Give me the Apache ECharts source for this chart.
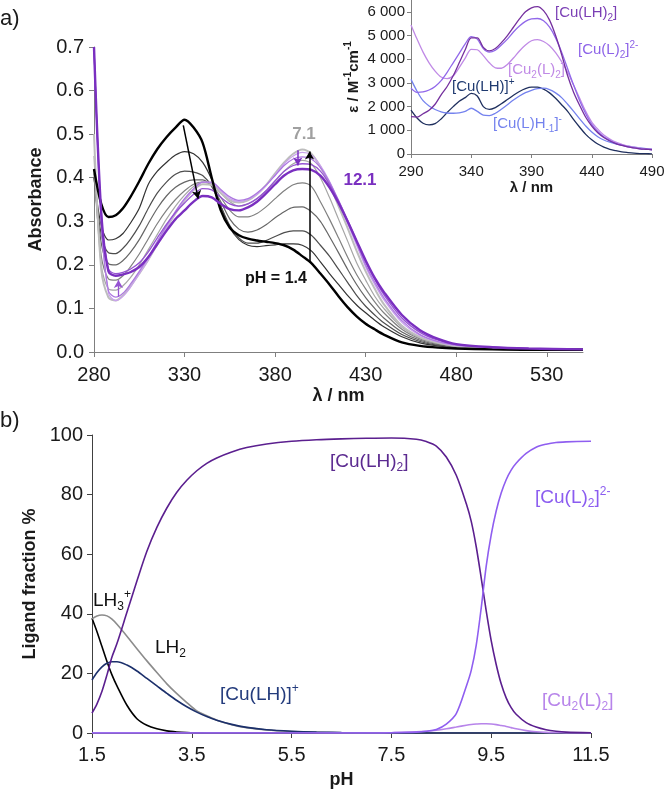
<!DOCTYPE html>
<html>
<head>
<meta charset="utf-8">
<script src="https://cdn.jsdelivr.net/npm/echarts@6/dist/echarts.min.js"></script>
<style>
  html, body { margin: 0; padding: 0; background: #fff; }
  #chart { width: 664px; height: 791px; }
</style>
</head>
<body>
<div id="chart"></div>
<script>
// a) absorbance spectra, pH 1.4 -> 12.1
var wavelength = [280, 284, 288, 292, 296, 300, 305, 310, 315, 320, 325, 330, 335, 340, 345, 350, 355, 360, 365, 370, 375, 380, 385, 390, 395, 400, 405, 410, 415, 420, 425, 430, 435, 440, 450, 460, 470, 480, 500, 520, 550];
var absPH14 = [0.42, 0.34, 0.31, 0.314, 0.33, 0.355, 0.392, 0.432, 0.466, 0.493, 0.515, 0.533, 0.515, 0.48, 0.40, 0.325, 0.285, 0.268, 0.26, 0.256, 0.253, 0.25, 0.245, 0.235, 0.22, 0.204, 0.18, 0.155, 0.128, 0.103, 0.082, 0.065, 0.052, 0.04, 0.022, 0.014, 0.01, 0.008, 0.006, 0.005, 0.005];
var absGray1 = [0.40, 0.29, 0.257, 0.26, 0.272, 0.295, 0.33, 0.385, 0.415, 0.435, 0.452, 0.46, 0.455, 0.435, 0.395, 0.335, 0.285, 0.258, 0.245, 0.242, 0.244, 0.246, 0.248, 0.248, 0.245, 0.232, 0.207, 0.18, 0.155, 0.13, 0.108, 0.09, 0.073, 0.058, 0.035, 0.021, 0.014, 0.01, 0.007, 0.006, 0.005];
var absGray2 = [0.40, 0.27, 0.228, 0.226, 0.238, 0.258, 0.29, 0.33, 0.365, 0.39, 0.408, 0.415, 0.413, 0.405, 0.38, 0.335, 0.29, 0.262, 0.25, 0.25, 0.256, 0.265, 0.274, 0.278, 0.278, 0.268, 0.245, 0.22, 0.19, 0.16, 0.13, 0.105, 0.085, 0.067, 0.04, 0.024, 0.015, 0.011, 0.008, 0.006, 0.005];
var absGray3 = [0.41, 0.25, 0.203, 0.2, 0.21, 0.228, 0.258, 0.295, 0.33, 0.358, 0.378, 0.39, 0.395, 0.395, 0.38, 0.345, 0.305, 0.282, 0.275, 0.28, 0.292, 0.308, 0.322, 0.332, 0.333, 0.322, 0.30, 0.265, 0.228, 0.19, 0.155, 0.125, 0.1, 0.078, 0.046, 0.027, 0.017, 0.012, 0.008, 0.006, 0.005];
var absGray4 = [0.42, 0.22, 0.168, 0.165, 0.175, 0.195, 0.225, 0.26, 0.295, 0.325, 0.35, 0.37, 0.385, 0.39, 0.383, 0.355, 0.325, 0.31, 0.31, 0.318, 0.333, 0.352, 0.37, 0.384, 0.388, 0.38, 0.345, 0.305, 0.262, 0.218, 0.178, 0.145, 0.115, 0.09, 0.052, 0.03, 0.019, 0.013, 0.008, 0.006, 0.005];
var absGray5 = [0.45, 0.2, 0.145, 0.142, 0.152, 0.17, 0.2, 0.235, 0.27, 0.305, 0.335, 0.36, 0.38, 0.39, 0.387, 0.365, 0.345, 0.335, 0.34, 0.352, 0.37, 0.392, 0.415, 0.432, 0.44, 0.432, 0.40, 0.355, 0.305, 0.255, 0.205, 0.165, 0.128, 0.1, 0.057, 0.032, 0.02, 0.013, 0.009, 0.007, 0.006];
var absPH71 = [0.5, 0.19, 0.125, 0.118, 0.13, 0.15, 0.18, 0.212, 0.248, 0.285, 0.318, 0.348, 0.372, 0.385, 0.383, 0.365, 0.348, 0.343, 0.348, 0.362, 0.383, 0.41, 0.435, 0.455, 0.465, 0.455, 0.425, 0.385, 0.335, 0.285, 0.232, 0.185, 0.145, 0.11, 0.06, 0.034, 0.021, 0.014, 0.009, 0.007, 0.006];
var absViolet1 = [0.7, 0.3, 0.135, 0.118, 0.128, 0.148, 0.18, 0.212, 0.248, 0.286, 0.32, 0.35, 0.372, 0.39, 0.388, 0.37, 0.352, 0.345, 0.35, 0.362, 0.382, 0.407, 0.432, 0.45, 0.458, 0.452, 0.428, 0.392, 0.345, 0.295, 0.245, 0.195, 0.155, 0.12, 0.068, 0.038, 0.023, 0.015, 0.01, 0.007, 0.006];
var absViolet2 = [0.7, 0.3, 0.14, 0.126, 0.135, 0.155, 0.185, 0.218, 0.254, 0.29, 0.323, 0.352, 0.375, 0.39, 0.39, 0.373, 0.356, 0.348, 0.352, 0.365, 0.383, 0.405, 0.428, 0.443, 0.448, 0.443, 0.423, 0.39, 0.348, 0.3, 0.25, 0.2, 0.16, 0.125, 0.072, 0.04, 0.024, 0.016, 0.01, 0.007, 0.006];
var absViolet3 = [0.7, 0.32, 0.19, 0.18, 0.183, 0.19, 0.205, 0.23, 0.262, 0.293, 0.32, 0.342, 0.362, 0.375, 0.372, 0.355, 0.34, 0.335, 0.34, 0.352, 0.37, 0.393, 0.415, 0.428, 0.432, 0.43, 0.415, 0.385, 0.347, 0.303, 0.255, 0.207, 0.167, 0.132, 0.078, 0.045, 0.027, 0.017, 0.011, 0.008, 0.006];
var absPH121 = [0.7, 0.32, 0.185, 0.175, 0.178, 0.183, 0.195, 0.218, 0.248, 0.278, 0.305, 0.325, 0.345, 0.358, 0.355, 0.34, 0.328, 0.325, 0.332, 0.345, 0.364, 0.385, 0.405, 0.417, 0.42, 0.418, 0.405, 0.378, 0.342, 0.3, 0.255, 0.21, 0.17, 0.138, 0.085, 0.05, 0.03, 0.018, 0.011, 0.008, 0.006];
var absTicks = [280, 330, 380, 430, 480, 530];

// inset: molar absorptivity of the complexes
var insetWavelength = [290, 295, 300, 305, 310, 315, 320, 325, 330, 335, 340, 345, 350, 355, 360, 365, 370, 375, 380, 385, 390, 395, 400, 405, 410, 415, 420, 425, 430, 435, 440, 445, 450, 455, 460, 465, 470, 475, 480, 485, 490];
var epsCuLH2 = [1580, 1560, 1700, 1850, 2100, 2500, 2850, 3300, 3850, 4400, 4900, 4900, 4500, 4350, 4450, 4700, 5000, 5350, 5700, 6000, 6170, 6220, 6050, 5650, 5000, 4200, 3300, 2600, 2050, 1550, 1180, 900, 700, 550, 440, 360, 300, 260, 220, 200, 180];
var epsCuL2 = [2780, 2600, 2620, 2700, 2850, 3100, 3450, 3850, 4250, 4650, 4950, 4850, 4450, 4300, 4380, 4600, 4850, 5150, 5400, 5600, 5700, 5720, 5620, 5350, 4900, 4300, 3600, 2900, 2250, 1700, 1250, 950, 730, 580, 450, 370, 300, 260, 220, 200, 180];
var epsCu2L2 = [5450, 4850, 4300, 3850, 3500, 3250, 3180, 3300, 3650, 4050, 4420, 4400, 4150, 3850, 3640, 3620, 3780, 4050, 4350, 4600, 4780, 4830, 4750, 4570, 4280, 3900, 3450, 2900, 2350, 1800, 1350, 1050, 800, 630, 500, 410, 330, 290, 250, 220, 200];
var epsCuLH = [1850, 1520, 1300, 1230, 1280, 1480, 1750, 2000, 2230, 2380, 2560, 2450, 2000, 1880, 1960, 2120, 2300, 2480, 2640, 2760, 2820, 2820, 2740, 2580, 2350, 2080, 1800, 1450, 1130, 830, 600, 420, 290, 200, 140, 90, 60, 35, 20, 12, 8];
var epsCuLHm1 = [3150, 2650, 2250, 2030, 1880, 1780, 1730, 1720, 1740, 1800, 1930, 1800, 1640, 1620, 1720, 1890, 2080, 2280, 2450, 2590, 2690, 2760, 2780, 2720, 2580, 2380, 2100, 1800, 1480, 1180, 930, 730, 590, 500, 430, 370, 330, 290, 260, 230, 210];
var epsTicks = [0, 1000, 2000, 3000, 4000, 5000, 6000];

// b) species distribution
var pH = [1.5, 1.6, 1.7, 1.8, 1.9, 2.0, 2.2, 2.4, 2.6, 2.8, 3.0, 3.2, 3.4, 3.6, 3.8, 4.0, 4.3, 4.6, 5.0, 5.5, 6.0, 6.5, 7.0, 7.5, 8.0, 8.2, 8.4, 8.6, 8.8, 9.0, 9.1, 9.2, 9.3, 9.4, 9.5, 9.6, 9.7, 9.8, 9.9, 10.0, 10.2, 10.4, 10.6, 10.8, 11.0, 11.5];
var fracLH3 = [38.5, 34, 29, 24, 19.5, 15.8, 9.3, 4.8, 2.6, 1.4, 0.7, 0.35, 0.15, 0.06, 0.02, 0, 0, 0, 0, 0, 0, 0, 0, 0, 0, 0, 0, 0, 0, 0, 0, 0, 0, 0, 0, 0, 0, 0, 0, 0, 0, 0, 0, 0, 0, 0];
var fracLH2 = [38.3, 39.3, 39.6, 39.3, 38.2, 36.5, 32.5, 28.3, 24.2, 20.3, 16.5, 13.2, 10.2, 7.4, 5.8, 4.3, 2.8, 1.8, 1.0, 0.5, 0.2, 0.1, 0, 0, 0, 0, 0, 0, 0, 0, 0, 0, 0, 0, 0, 0, 0, 0, 0, 0, 0, 0, 0, 0, 0, 0];
var fracCuLH = [17.8, 20.3, 22.2, 23.4, 23.9, 23.9, 22.8, 20.8, 18.3, 15.8, 13.3, 10.9, 8.8, 7.0, 5.5, 4.3, 2.9, 1.9, 1.1, 0.6, 0.3, 0.15, 0.05, 0, 0, 0, 0, 0, 0, 0, 0, 0, 0, 0, 0, 0, 0, 0, 0, 0, 0, 0, 0, 0, 0, 0];
var fracCuLH2 = [6.7, 9.8, 14, 19.5, 25.5, 30, 40.5, 51, 61, 69, 75.5, 80.8, 84.8, 88, 90.5, 92.3, 94.3, 95.8, 97, 97.9, 98.4, 98.7, 98.9, 99, 98.6, 97.8, 96.3, 92.6, 86.5, 77, 71, 62.5, 52, 41, 31, 23, 16.5, 11.8, 8.5, 6.3, 3.5, 2.0, 1.1, 0.6, 0.3, 0.1];
var fracCuL2 = [0, 0, 0, 0, 0, 0, 0, 0, 0, 0, 0, 0, 0, 0, 0, 0, 0, 0, 0, 0, 0, 0, 0, 0.1, 0.3, 0.6, 1.2, 3, 6.5, 15.6, 21, 29.5, 42, 56, 66.5, 74.5, 80.5, 85, 88.2, 90.5, 93.8, 95.9, 96.9, 97.5, 97.7, 97.9];
var fracCu2L2 = [0, 0, 0, 0, 0, 0, 0, 0, 0, 0, 0, 0, 0, 0, 0, 0, 0, 0, 0, 0, 0, 0, 0, 0.1, 0.4, 0.6, 0.9, 1.4, 2.0, 2.6, 2.85, 3.0, 3.1, 3.1, 3.0, 2.8, 2.5, 2.2, 1.8, 1.4, 0.8, 0.4, 0.2, 0.1, 0.05, 0];

var FONT = '"Liberation Sans", Arial, sans-serif';

function pairs(xs, ys) {
  return xs.map(function (x, i) { return [x, ys[i]]; });
}

function curve(xs, ys, color, width, idx) {
  return {
    type: 'line',
    xAxisIndex: idx,
    yAxisIndex: idx,
    data: pairs(xs, ys),
    smooth: 0.3,
    symbol: 'none',
    showSymbol: false,
    silent: true,
    lineStyle: { color: color, width: width }
  };
}

function arrow(color, width, from, to) {
  return {
    silent: true,
    symbol: ['none', 'arrow'],
    symbolSize: [7, 8],
    label: { show: false },
    lineStyle: { color: color, width: width, type: 'solid' },
    data: [[{ coord: from }, { coord: to }]]
  };
}

// sub / superscripts for the species labels
function richSet(size) {
  var small = Math.round(size * 0.65);
  return {
    s: { fontSize: small, lineHeight: small + 2, verticalAlign: 'bottom', fontFamily: FONT },
    p: { fontSize: small, lineHeight: small, verticalAlign: 'top', fontFamily: FONT }
  };
}

function label(text, x, y, color, size, bold, align) {
  return {
    type: 'text',
    x: x,
    y: y,
    z: 100,
    silent: true,
    style: {
      text: text,
      fill: color,
      fontSize: size,
      fontWeight: bold ? 'bold' : 'normal',
      fontFamily: FONT,
      lineHeight: size + 5,
      align: align || 'left',
      verticalAlign: 'middle',
      rich: richSet(size)
    }
  };
}

function axisBase(color) {
  return {
    axisLine: { show: true, lineStyle: { color: color, width: 1 } },
    axisTick: { show: true, length: 5, lineStyle: { color: color, width: 1 } },
    splitLine: { show: false }
  };
}

function merge(a, b) {
  var o = {};
  Object.keys(a).forEach(function (k) { o[k] = a[k]; });
  Object.keys(b).forEach(function (k) { o[k] = b[k]; });
  return o;
}

var chart = echarts.init(document.getElementById('chart'), null, { renderer: 'canvas' });

var seriesMain = [
  curve(wavelength, absGray1, '#333333', 1.2, 0),
  curve(wavelength, absGray2, '#4d4d4d', 1.2, 0),
  curve(wavelength, absGray3, '#666666', 1.2, 0),
  curve(wavelength, absGray4, '#808080', 1.2, 0),
  curve(wavelength, absGray5, '#a6a6a6', 1.2, 0),
  curve(wavelength, absPH71, '#bdbdbd', 2, 0),
  curve(wavelength, absViolet1, '#c9a3ec', 1.3, 0),
  curve(wavelength, absViolet2, '#ad78e0', 1.3, 0),
  curve(wavelength, absViolet3, '#9553d2', 1.3, 0),
  curve(wavelength, absPH14, '#000000', 2.4, 0),
  curve(wavelength, absPH121, '#7a2fc0', 2.4, 0)
];
seriesMain[9].markLine = arrow('#000', 1.5, [329.3, 0.52], [337.5, 0.352]);
seriesMain[0].markLine = arrow('#000', 1.5, [399, 0.205], [399, 0.46]);
seriesMain[10].markLine = arrow('#7a2fc0', 1.5, [392.5, 0.463], [392.5, 0.428]);
seriesMain[8].markLine = arrow('#9553d2', 1.3, [293.5, 0.127], [293.5, 0.165]);

var seriesInset = [
  curve(insetWavelength, epsCuLH, '#1f2f5e', 1.3, 1),
  curve(insetWavelength, epsCuLHm1, '#7482ee', 1.3, 1),
  curve(insetWavelength, epsCu2L2, '#c08ae6', 1.3, 1),
  curve(insetWavelength, epsCuL2, '#9168ea', 1.3, 1),
  curve(insetWavelength, epsCuLH2, '#75309e', 1.3, 1)
];

var seriesFrac = [
  curve(pH, fracLH3, '#000000', 1.6, 2),
  curve(pH, fracLH2, '#8c8c8c', 1.6, 2),
  curve(pH, fracCuLH, '#1b2f6b', 1.6, 2),
  curve(pH, fracCu2L2, '#b784ea', 1.6, 2),
  curve(pH, fracCuLH2, '#5b1f8f', 1.6, 2),
  curve(pH, fracCuL2, '#8f5ef0', 1.6, 2)
];

var option = {
  animation: false,
  textStyle: { fontFamily: FONT },
  grid: [
    { left: 94, right: 81, top: 47, height: 305, outerBoundsMode: 'none' },
    { left: 411, right: 12, top: 0, height: 154, outerBoundsMode: 'none' },
    { left: 92, right: 73, top: 435, height: 298, outerBoundsMode: 'none' }
  ],
  xAxis: [
    merge(axisBase('#7f7f7f'), {
      gridIndex: 0, type: 'value', min: 280, max: 550, interval: 50,
      axisTick: { show: true, length: 5, lineStyle: { color: '#7f7f7f' }, customValues: absTicks },
      axisLabel: { fontSize: 20, color: '#1a1a1a', margin: 13, customValues: absTicks },
      name: 'λ / nm', nameLocation: 'middle', nameGap: 35,
      nameTextStyle: { fontSize: 18, fontWeight: 'bold', color: '#1a1a1a' }
    }),
    merge(axisBase('#7f7f7f'), {
      gridIndex: 1, type: 'value', min: 290, max: 490, interval: 50,
      axisTick: { show: true, length: 4, lineStyle: { color: '#7f7f7f' } },
      axisLabel: { fontSize: 15, color: '#1a1a1a', margin: 10 },
      name: 'λ / nm', nameLocation: 'middle', nameGap: 26,
      nameTextStyle: { fontSize: 15, fontWeight: 'bold', color: '#1a1a1a' }
    }),
    merge(axisBase('#404040'), {
      gridIndex: 2, type: 'value', min: 1.5, max: 11.5, interval: 2,
      axisLabel: { fontSize: 20, color: '#1a1a1a', margin: 12, formatter: function (v) { return v.toFixed(1); } },
      name: 'pH', nameLocation: 'middle', nameGap: 38,
      nameTextStyle: { fontSize: 18, fontWeight: 'bold', color: '#1a1a1a' }
    })
  ],
  yAxis: [
    merge(axisBase('#7f7f7f'), {
      gridIndex: 0, type: 'value', min: 0, max: 0.7, interval: 0.1,
      axisLabel: { fontSize: 20, color: '#1a1a1a', margin: 10, formatter: function (v) { return v.toFixed(1); } },
      name: 'Absorbance', nameLocation: 'middle', nameGap: 49,
      nameTextStyle: { fontSize: 18, fontWeight: 'bold', color: '#1a1a1a' }
    }),
    merge(axisBase('#7f7f7f'), {
      gridIndex: 1, type: 'value', min: 0, max: 6500, interval: 1000,
      axisTick: { show: true, length: 4, lineStyle: { color: '#7f7f7f' }, customValues: epsTicks },
      axisLabel: {
        fontSize: 15, color: '#1a1a1a', margin: 6, customValues: epsTicks,
        formatter: function (v) { return String(v).replace(/\B(?=(\d{3})+(?!\d))/g, ' '); }
      },
      name: 'ε / M{p|-1}cm{p|-1}', nameLocation: 'middle', nameGap: 42,
      nameTextStyle: {
        fontSize: 15, fontWeight: 'bold', color: '#1a1a1a', lineHeight: 20,
        rich: { p: { fontSize: 10, fontWeight: 'bold', lineHeight: 10, verticalAlign: 'top', color: '#1a1a1a' } }
      }
    }),
    merge(axisBase('#404040'), {
      gridIndex: 2, type: 'value', min: 0, max: 100, interval: 20,
      axisLabel: { fontSize: 20, color: '#1a1a1a', margin: 9 },
      name: 'Ligand fraction %', nameLocation: 'middle', nameGap: 41,
      nameTextStyle: { fontSize: 18, fontWeight: 'bold', color: '#1a1a1a' }
    })
  ],
  graphic: [
    label('a)', 0, 19, '#1a1a1a', 22, false),
    label('b)', 0, 421, '#1a1a1a', 22, false),
    label('7.1', 304, 134, '#a0a0a0', 17, true, 'center'),
    label('12.1', 360, 180, '#7a2fc0', 17, true, 'center'),
    label('pH = 1.4', 276, 279, '#111111', 16, true, 'center'),
    label('[Cu(LH){s|2}]', 555, 13, '#7b3fb5', 15, false),
    label('[Cu(L){s|2}]{p|2-}', 578, 50, '#8d63e8', 15, false),
    label('[Cu{s|2}(L){s|2}]', 508, 70, '#c08ae6', 15, false),
    label('[Cu(LH)]{p|+}', 452, 87, '#1f3a70', 15, false),
    label('[Cu(L)H{s|-1}]{p|-}', 493, 124, '#7482ee', 15, false),
    label('LH{s|3}{p|+}', 93, 601, '#111111', 19, false),
    label('LH{s|2}', 155, 648, '#111111', 19, false),
    label('[Cu(LH)]{p|+}', 220, 695, '#233b7c', 19, false),
    label('[Cu(LH){s|2}]', 330, 462, '#5b2a90', 19, false),
    label('[Cu(L){s|2}]{p|2-}', 535, 498, '#8b5cf0', 19, false),
    label('[Cu{s|2}(L){s|2}]', 542, 701, '#b784ea', 19, false)
  ],
  series: seriesMain.concat(seriesInset, seriesFrac)
};

chart.setOption(option);
</script>
</body>
</html>
